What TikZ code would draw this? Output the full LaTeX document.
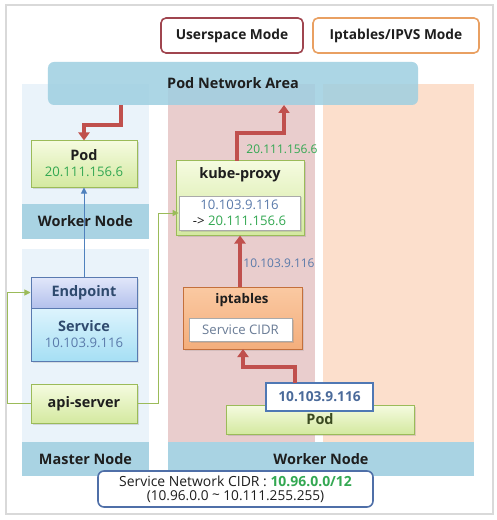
\documentclass[tikz,border=0pt]{standalone}
\usepackage{fontspec}
\setmainfont{Open Sans}
\usetikzlibrary{arrows.meta,calc,shadows}
\definecolor{redA}{HTML}{C0504D}
\definecolor{grnB}{HTML}{9BBB59}
\definecolor{grnT}{HTML}{33A852}
\definecolor{bluT}{HTML}{5A7AAA}
\definecolor{darkT}{HTML}{1E1E1E}
\definecolor{bandC}{HTML}{A9D3E3}
\definecolor{lightP}{HTML}{EAF3FA}
\definecolor{pinkP}{HTML}{E9CDCD}
\definecolor{peachP}{HTML}{FCDFCC}
\definecolor{pnaC}{HTML}{9ECFE1}
\definecolor{epB}{HTML}{5A7AB0}
\definecolor{gTop}{HTML}{F5FBE0}
\definecolor{gBot}{HTML}{D4E9A0}
\definecolor{wBord}{HTML}{AAAAAA}
\definecolor{usB}{HTML}{A0454F}
\definecolor{ipB}{HTML}{E9A062}
\definecolor{epTop}{HTML}{E2E7FA}
\definecolor{epBot}{HTML}{B3C1EC}
\definecolor{epT}{HTML}{2F4A6E}
\definecolor{svTop}{HTML}{DDF4FD}
\definecolor{svBot}{HTML}{A6DFF4}
\definecolor{iptB}{HTML}{C4703C}
\definecolor{iptTop}{HTML}{FAC9A2}
\definecolor{iptBot}{HTML}{F4AE7C}
\definecolor{cidrT}{HTML}{6A7C96}
\definecolor{podT}{HTML}{3A4A20}
\definecolor{lblB}{HTML}{4F78B4}
\definecolor{lblT}{HTML}{4A6A9A}
\definecolor{sncB}{HTML}{4F6FA8}
\definecolor{bluA}{HTML}{4F81BD}
\tikzset{
  fbig/.style={font=\fontsize{14.5}{17}\selectfont\bfseries},
  fmode/.style={font=\fontsize{13.8}{16}\selectfont\bfseries},
  fmid/.style={font=\fontsize{13.2}{15}\selectfont},
  fsm/.style={font=\fontsize{12}{14}\selectfont},
  txt/.style={inner sep=0pt, anchor=center},
  greenbox/.style={draw=grnB, line width=1bp, top color=gTop, bottom color=gBot, inner sep=0pt,
     drop shadow={opacity=0.25, shadow xshift=1.5bp, shadow yshift=-1.5bp}},
  whitebox/.style={draw=wBord, fill=white, line width=0.8bp, inner sep=0pt,
     drop shadow={opacity=0.25, shadow xshift=1.5bp, shadow yshift=-1.5bp}},
  redarrow/.style={draw=redA, line width=3.2bp, -{Triangle[length=8bp,width=11bp]}},
  thinarrow/.style={line width=1bp, -{Triangle[length=6bp,width=6bp]}},
  band/.style={fill=bandC, draw=none, fbig, text=darkT},
  modebox/.style={rounded corners=5bp, line width=1.6bp, fill=white, fmode, text=darkT, inner sep=0pt},
}
\begin{document}
\begin{tikzpicture}[x=1bp,y=-1bp]
\useasboundingbox (0,0) rectangle (497,520);
\fill[white] (0,0) rectangle (497,520);
% outer frame
\draw[line width=1.5bp, draw=black!15] (6,5) rectangle (493,514);
% panels
\fill[lightP] (22,84) rectangle (149,204);
\fill[lightP] (22,249) rectangle (149,442);
\fill[pinkP] (168,84) rectangle (315,442);
\fill[peachP] (323,84) rectangle (474,442);
\node[band, minimum width=127bp, minimum height=35bp] (wnL) at (85.5,221.5) {Worker Node};
\node[band, minimum width=127bp, minimum height=34bp] (mn) at (85.5,459) {Master Node};
\node[band, minimum width=306bp, minimum height=34bp] (wnR) at (321,459) {Worker Node};
% mode boxes
\node[modebox, draw=usB, minimum width=142bp, minimum height=35bp] (us) at (232,35.5) {Userspace Mode};
\node[modebox, draw=ipB, minimum width=166bp, minimum height=35bp] (ip) at (396,35.5) {Iptables/IPVS Mode};
% pod network area
\node[rounded corners=6bp, fill=pnaC, fill opacity=0.85, text opacity=1, minimum width=370bp, minimum height=43bp, fbig, text=darkT] (pna) at (233,83.5) {Pod Network Area};
% left column
\node[greenbox, minimum width=106bp, minimum height=46bp] (podL) at (84,164) {};
\node[txt, fbig, text=darkT] (podLt) at (84,155.5) {Pod};
\node[txt, fmid, text=grnT] (podLi) at (84,172) {20.111.156.6};
\node[draw=epB, line width=1bp, top color=epTop, bottom color=epBot, minimum width=106bp, minimum height=31bp, inner sep=0pt, fbig, text=epT,
     drop shadow={opacity=0.2, shadow xshift=1.5bp, shadow yshift=-1.5bp}] (ep) at (84,292.5) {Endpoint};
\node[draw=epB, line width=1bp, top color=svTop, bottom color=svBot, minimum width=106bp, minimum height=53bp, inner sep=0pt,
     drop shadow={opacity=0.2, shadow xshift=1.5bp, shadow yshift=-1.5bp}] (svc) at (84,334.5) {};
\node[txt, fbig, text=epT] (svct) at (84,326) {Service};
\node[txt, fmid, text=bluT] (svci) at (84,342.5) {10.103.9.116};
\node[greenbox, minimum width=106bp, minimum height=39bp, fbig, text=darkT] (api) at (84,403.5) {api-server};
% kube-proxy
\node[greenbox, minimum width=128bp, minimum height=74bp] (kp) at (240,198) {};
\node[txt, fbig, text=darkT] (kpt) at (240,175) {kube-proxy};
\node[whitebox, minimum width=121bp, minimum height=34bp] (kpi) at (239.5,213) {};
\node[txt, fmid, text=bluT] (kpi1) at (239.5,205) {10.103.9.116};
\node[txt, fmid] (kpi2) at (239.5,221) {\color{darkT}-> \color{grnT}20.111.156.6};
% iptables
\node[draw=iptB, line width=1bp, top color=iptTop, bottom color=iptBot, minimum width=119bp, minimum height=62bp, inner sep=0pt,
     drop shadow={opacity=0.2, shadow xshift=1.5bp, shadow yshift=-1.5bp}] (ipt) at (242.5,318) {};
\node[txt, text=darkT, font=\fontsize{13.3}{15}\selectfont\bfseries] (iptt) at (242,300) {iptables};
\node[whitebox, minimum width=103bp, minimum height=23bp, fmid, text=cidrT] (cidr) at (240.5,329.5) {Service CIDR};
% bottom pod
\node[greenbox, minimum width=188bp, minimum height=29bp] (podR) at (320,419.5) {};
\node[txt, fbig, text=podT] (podRt) at (320,419.5) {Pod};
\node[draw=lblB, line width=2bp, fill=white, minimum width=107bp, minimum height=28bp, inner sep=0pt, text=lblT, font=\fontsize{13.8}{16}\selectfont\bfseries] (lbl) at (319.5,397) {10.103.9.116};
% service network CIDR
\node[draw=sncB, line width=1.6bp, rounded corners=6bp, fill=white, minimum width=275bp, minimum height=36bp, inner sep=0pt] (snc) at (235.5,489) {};
\node[txt, font=\fontsize{14}{16}\selectfont, text=darkT] (snc1) at (235.5,481) {Service Network CIDR : {\bfseries\color{grnT}10.96.0.0/12}};
\node[txt, font=\fontsize{13.7}{16}\selectfont, text=darkT] (snc2) at (235.5,497) {(10.96.0.0 \raisebox{0.2ex}{\textasciitilde} 10.111.255.255)};
% arrows
\coordinate (a1) at (121,105);
\draw[redarrow] (a1) -- (121,125) -| (podL.north);
\coordinate (a2) at (237,161);
\draw[redarrow] (a2) -- (237,133) -- (284,133) -- (284,105);
\draw[redarrow] (ipt.north -| kp.south) -- (kp.south);
\coordinate (a4) at (295,383);
\draw[redarrow] (a4) -- (295,367) -| (243,349);
\draw[thinarrow, draw=bluA] (ep.north) -- (podL.south);
\draw[thinarrow, draw=grnB] (api.west) -- (7,403.5) |- (ep.west);
\draw[thinarrow, draw=grnB] (api.east) -- (158,403.5) |- (kpi.west);
% labels
\node[fsm, text=grnT] (l1) at (282,149) {20.111.156.6};
\node[fsm, text=bluT] (l2) at (279,263) {10.103.9.116};
\end{tikzpicture}
\end{document}
